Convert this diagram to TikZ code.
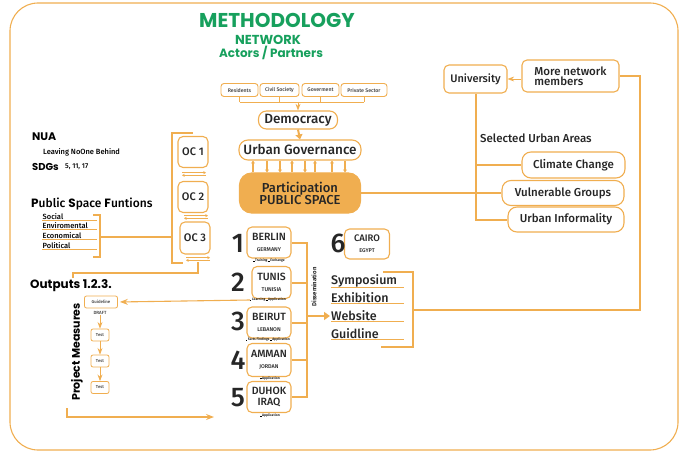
\documentclass[tikz,border=0pt]{standalone}
\usepackage{fontspec}
\setmainfont{Fira Sans}[UprightFont=* Medium, BoldFont=* SemiBold]
\newfontfamily\dispfont{Poppins}
\usepackage{tikz}
\usetikzlibrary{positioning,calc,arrows.meta}

\definecolor{orng}{HTML}{F0AE50}
\definecolor{ttlgreen}{HTML}{17A05D}
\newcommand{\fs}[1]{\fontsize{#1}{#1}\selectfont}
\newcommand{\sq}{\rule{1.3pt}{1.3pt}}

\begin{document}
\begin{tikzpicture}[
	x=1pt,y=-1pt,
	>=Stealth,
	line join=miter,
	box/.style={draw=orng, line width=1.1pt, rounded corners=5pt, fill=white, inner sep=0pt, align=center, text=black!85},
	smallbox/.style={box, line width=0.9pt, rounded corners=3pt, minimum height=13pt, font=\fs{5.2}, text=black!75},
	city/.style={box, minimum width=44pt, minimum height=31pt},
	ocbox/.style={box, minimum width=30pt, minimum height=31pt, font=\fs{11}},
	testbox/.style={box, line width=0.8pt, rounded corners=2pt, minimum height=12pt, font=\fs{4.3}, text=black!75},
	num/.style={font=\fs{27}, inner sep=0pt, text=black!85},
	note/.style={font=\fs{3.4}, inner sep=0pt},
	disp/.style={font=\dispfont\bfseries, inner sep=0pt, anchor=west},
	wire/.style={orng, line width=2pt},
	bracket/.style={orng, line width=2.8pt},
	thinline/.style={orng, line width=0.8pt},
	harp/.style={orng, line width=0.6pt, -{Straight Barb[length=2pt,width=2.5pt]}}
	]
	%----- frame
	\useasboundingbox (0,0) rectangle (684,454);
	\draw[orng, line width=1.1pt, rounded corners=28pt] (10,3) rectangle (678,450);
	
	%----- title
	\node[ttlgreen, font=\dispfont\bfseries\fs{20}, inner sep=0pt] (ttl) at (277,20.5) {METHODOLOGY};
	\node[ttlgreen, font=\dispfont\bfseries\fs{13}, inner sep=0pt] (net) at (268,40) {NETWORK};
	\node[ttlgreen, font=\dispfont\bfseries\fs{12}, inner sep=0pt] (act) at (271,52.5) {Actors / Partners};
	
	%----- actors on top
	\node[smallbox, minimum width=37pt] (resid) at (239.5,90) {Residents};
	\node[smallbox, minimum width=39pt] (civil) at (279.5,90) {Civil Society};
	\node[smallbox, minimum width=37pt] (govt)  at (320.5,90) {Goverment};
	\node[smallbox, minimum width=46pt] (priv)  at (364,90) {Private Sector};
	
	\node[box, minimum width=79pt, minimum height=18pt, rounded corners=8pt, font=\fs{13.5}] (demo) at (298,120) {Democracy};
	\node[box, minimum width=122pt, minimum height=20pt, rounded corners=9pt, font=\fs{13.5}] (ugov) at (300,150) {Urban Governance};
	\node[box, fill=orng, minimum width=121pt, minimum height=40pt, rounded corners=12pt, font=\fs{13}] (part) at (300,193) {Participation\\[-1pt]PUBLIC SPACE};
	
	\coordinate (join) at (298,102);
	\foreach \b in {resid,civil,govt,priv}
		\draw[thinline] (\b.south) -- (\b.south |- join);
	\draw[thinline] (resid.south |- join) -- (priv.south |- join);
	\draw[thinline, ->] (join) -- (demo.north);
	\draw[wire, -{Triangle[width=7pt,length=5pt]}] (demo.south) -- (ugov.north);
	
	% up / down arrows between governance and participation
	\foreach \x in {253,292,315,332}
		\draw[thinline, line width=1.3pt, -{Stealth[length=3pt,width=4pt]}] (\x,0 |- part.north) -- (\x,0 |- ugov.south);
	\foreach \x in {267,280,305,345}
		\draw[thinline, line width=1.3pt, -{Stealth[length=3pt,width=4pt]}] (\x,0 |- ugov.south) -- (\x,0 |- part.north);
	
	%----- network (right)
	\node[box, minimum width=63pt, minimum height=28pt, font=\fs{11}] (univ) at (475.5,79) {University};
	\node[box, minimum width=97pt, minimum height=32pt, align=left, font=\fs{11.5}] (more) at (570.5,76) {More network\\[-1pt]members};
	\draw[thinline, ->] (more.west |- univ.east) -- (univ.east);
	
	\node[anchor=west, inner sep=0pt, font=\fs{11.5}, text=black!85] (sua) at (480,138) {Selected Urban Areas};
	\node[box, minimum width=103pt, minimum height=26pt, rounded corners=9pt, font=\fs{11.5}] (climate) at (573.5,165) {Climate Change};
	\node[box, minimum width=122pt, minimum height=25pt, rounded corners=9pt, font=\fs{11.5}] (vulner) at (563,193) {Vulnerable Groups};
	\node[box, minimum width=116pt, minimum height=25pt, rounded corners=9pt, font=\fs{11.5}] (inform) at (566,219.5) {Urban Informality};
	
	\draw[wire] (univ.south) |- (inform.west);
	\draw[wire] (univ.south |- climate.west) -- (climate.west);
	\draw[wire] (part.east) -- (vulner.west);
	
	%----- cities
	\node[city] (berlin) at (269,242.5) {{\fs{10.5}BERLIN}\\[-1pt]{\fs{5.5}GERMANY}};
	\node[city, minimum width=39pt, minimum height=32pt] (tunis) at (271.5,282.5) {{\fs{10.5}TUNIS}\\[-1pt]{\fs{5.5}TUNISIA}};
	\node[city] (beirut) at (269,322.5) {{\fs{10.5}BEIRUT}\\[-1pt]{\fs{5.5}LEBANON}};
	\node[city, minimum height=33pt] (amman) at (269,360) {{\fs{10.5}AMMAN}\\[-1pt]{\fs{5.5}JORDAN}};
	\node[city] (duhok) at (269,397) {{\fs{10.5}DUHOK}\\[-1pt]{\fs{10.5}IRAQ}};
	\node[city, minimum width=45pt, minimum height=30pt] (cairo) at (367,244) {{\fs{9.5}CAIRO}\\[-1pt]{\fs{5.5}EGYPT}};
	
	\node[num] (n1) at (238,243) {1};
	\node[num] (n2) at (238,282) {2};
	\node[num] (n3) at (238,321) {3};
	\node[num] (n4) at (238,360) {4};
	\node[num] (n5) at (238,398) {5};
	\node[num] (n6) at (338,243) {6};
	
	\node[note] (bnote) at (269,261) {\sq\,Training \sq\,Exchange};
	\node[note] (tnote) at (268,300) {\sq\,Learning \sq\,Application};
	\node[note] (rnote) at (268,340) {\sq\,Facts Findings \sq\,Application};
	\node[note] (anote) at (270,378.5) {\sq\,Application};
	\node[note] (dnote) at (270,416) {\sq\,Application};
	
	\coordinate (dx) at (307,0);
	\draw[wire] (berlin.east) -| (dx |- duhok.east) -- (duhok.east);
	\foreach \c in {tunis,beirut,amman}
		\draw[wire] (\c.east) -- (dx |- \c.east);
	\node[rotate=90, inner sep=0pt, font=\fs{6}] (dissem) at (314,287) {Dissemination};
	
	%----- outputs list
	\node[anchor=west, inner sep=1pt, font=\fs{12.5}, text=black!85] (symp)  at (330,281) {Symposium};
	\node[anchor=west, inner sep=1pt, font=\fs{12.5}, text=black!85] (exhib) at (330,298) {Exhibition};
	\node[anchor=west, inner sep=1pt, font=\fs{12.5}, text=black!85] (web)   at (330,316) {Website};
	\node[anchor=west, inner sep=1pt, font=\fs{12.5}, text=black!85] (guid)  at (330,334) {Guidline};
	\foreach \n in {symp,exhib,web,guid}
		\draw[thinline] ($(\n.south west)+(1,-1)$) -- ++(73,0);
	\draw[wire, -{Triangle[width=8pt,length=6pt]}] (dx |- web.west) -- (web.west);
	
	\draw[bracket] (383,272) -- (413,272) -- (413,347) -- (381,347);
	\draw[wire] (413,310) -| (640,76) -- (more.east);
	
	%----- left texts
	\node[disp, font=\dispfont\bfseries\fs{11}] (nua) at (32,136.5) {NUA};
	\node[anchor=west, inner sep=0pt, font=\fs{7.5}] (leave) at (43,152) {Leaving NoOne Behind};
	\node[disp, font=\dispfont\bfseries\fs{10}] (sdgs) at (32,167) {SDGs};
	\node[anchor=west, inner sep=0pt, font=\fs{7}] (sdgn) at (65,166.5) {5, 11, 17};
	\node[anchor=west, inner sep=0pt, font=\fs{12}] (psf) at (31,204) {{\dispfont\bfseries P}ublic {\dispfont\bfseries S}pace {\dispfont\bfseries F}untions};
	
	\node[anchor=west, inner sep=0.5pt, font=\fs{7.5}] (social) at (42,216.5) {Social};
	\node[anchor=west, inner sep=0.5pt, font=\fs{7.5}] (envir)  at (42,226) {Enviromental};
	\node[anchor=west, inner sep=0.5pt, font=\fs{7.5}] (econ)   at (42,236) {Economical};
	\node[anchor=west, inner sep=0.5pt, font=\fs{7.5}] (polit)  at (42,245.5) {Political};
	\foreach \n in {social,envir,econ,polit}
		\draw[thinline, line width=0.6pt] (\n.south west) -- ++(55,0);
	\draw[bracket] (93,215) -- (100,215) -- (100,257) -- (93,257);
	\draw[bracket, line width=2.2pt] (100,237) -- (172,237);
	
	%----- OC column
	\node[ocbox] (oc1) at (193,152) {OC 1};
	\node[ocbox] (oc2) at (193,197) {OC 2};
	\node[ocbox, minimum height=32pt] (oc3) at (195,238) {OC 3};
	\draw[bracket] (193,133) -- (172,133) -- (172,263) -- (183,263);
	\foreach \y/\xo in {174/182, 217/184, 259/186}{
		\draw[harp] (\xo,\y-1.3) -- ++(24,0);
		\draw[harp] (\xo+24,\y+1.3) -- ++(-24,0);
	}
	\draw[wire] (198,262) -- (198,273) -- (73,273) -- (73,278);
	
	%----- outputs / project measures
	\node[disp, font=\dispfont\bfseries\fs{12}] (outp) at (30,285.5) {Outputs 1.2.3.};
	\node[rotate=90, inner sep=0pt, font=\dispfont\bfseries\fs{11}] (projm) at (77,352) {Project Measures};
	
	\node[testbox, minimum width=33pt] (guide) at (101,302) {Guideline};
	\node[inner sep=0pt, font=\fs{4.5}, text=black!75] (draft) at (100,313) {DRAFT};
	\node[testbox, minimum width=18pt] (test1) at (100,335) {Test};
	\node[testbox, minimum width=18pt] (test2) at (100,361) {Test};
	\node[testbox, minimum width=18pt] (test3) at (100,387.5) {Test};
	\draw[thinline, ->] (draft.south) -- (test1.north);
	\draw[thinline, ->] (test1.south) -- (test2.north);
	\draw[thinline, ->] (test2.south) -- (test3.north);
	\draw[thinline, line width=1.1pt, ->, shorten >=2pt] (tnote.west) -- (guide.east);
	
	\coordinate (pmEnd) at (214,417);
	\draw[thinline, line width=1.1pt, ->] (67,408) |- (pmEnd);
\end{tikzpicture}
\end{document}
